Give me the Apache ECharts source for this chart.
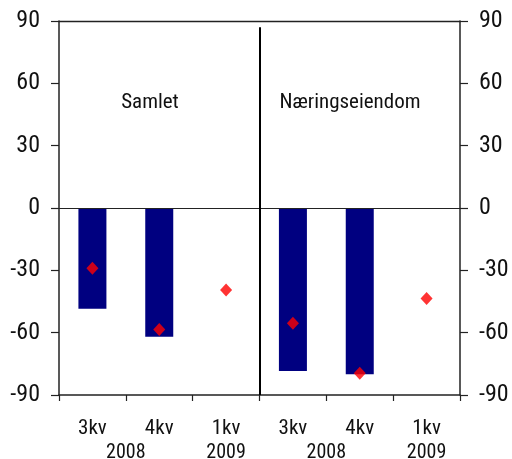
<!DOCTYPE html>
<html>
<head>
<meta charset="utf-8">
<script src="https://cdn.jsdelivr.net/npm/echarts@6/dist/echarts.min.js"></script>
<style>
html,body{margin:0;padding:0;background:#fff;}
#c{width:512px;height:459px;}
</style>
</head>
<body>
<div id="c"></div>
<script>
var categories = ['3kv', '4kv', '1kv', '3kv', '4kv', '1kv'];
var yearLabels = ['', '', '2008', '', '', '2009', '', '', '2008', '', '', '2009', ''];
var barValues = [-48.5, -62, null, -78.5, -80, null];
var diamondValues = [-29, -58.5, -39.5, -55.5, -79.5, -43.5];
var panelTitles = ['Samlet', 'Næringseiendom'];
var yTicks = [-90, -60, -30, 0, 30, 60, 90];
var dividerAt = 3;
var dividerTop = 87;

var FONT = "'Roboto Condensed', 'Liberation Sans', sans-serif";
var chart = echarts.init(document.getElementById('c'));

function yAxisDef(pos) {
  return {
    type: 'value', position: pos,
    min: yTicks[0], max: yTicks[yTicks.length - 1], interval: 30,
    axisLine: {show: true, lineStyle: {color: '#222', width: 1.5}},
    axisTick: {show: true, inside: false, length: 8, lineStyle: {color: '#222', width: 1.2}},
    axisLabel: {show: true, margin: 19, fontFamily: FONT, fontSize: 24, color: '#111'},
    splitLine: {show: false}
  };
}

chart.setOption({
  animation: false,
  backgroundColor: '#fff',
  grid: {left: 59, right: 52, top: 21, bottom: 64, containLabel: false, outerBoundsMode: 'none'},
  graphic: [
    {type: 'text', x: 150, y: 103, style: {text: panelTitles[0], fontFamily: FONT, fontSize: 21, fill: '#111', align: 'center', verticalAlign: 'middle'}},
    {type: 'text', x: 350, y: 103, style: {text: panelTitles[1], fontFamily: FONT, fontSize: 21, fill: '#111', align: 'center', verticalAlign: 'middle'}}
  ],
  xAxis: [
    {
      type: 'category', data: categories, position: 'bottom',
      axisLine: {show: true, onZero: false, lineStyle: {color: '#222', width: 1.5}},
      axisTick: {show: true, inside: false, length: 6, alignWithLabel: false, lineStyle: {color: '#222', width: 1.2}},
      axisLabel: {show: true, interval: 0, margin: 23, fontFamily: FONT, fontSize: 21, color: '#111'},
      splitLine: {show: false}
    },
    {
      type: 'category', data: yearLabels, position: 'bottom', boundaryGap: false,
      axisLine: {show: false, onZero: false}, axisTick: {show: false},
      axisLabel: {show: true, interval: 0, margin: 48, fontFamily: FONT, fontSize: 20, color: '#111'},
      splitLine: {show: false}
    },
    {
      type: 'value', min: 0, max: categories.length, position: 'top',
      axisLine: {show: true, onZero: false, lineStyle: {color: '#222', width: 1.3}},
      axisTick: {show: false}, axisLabel: {show: false}, splitLine: {show: false}
    }
  ],
  yAxis: [yAxisDef('left'), yAxisDef('right')],
  series: [
    {
      type: 'bar', xAxisIndex: 0, yAxisIndex: 0, data: barValues, barWidth: 28,
      itemStyle: {color: '#000080'},
      markLine: {silent: true, symbol: 'none', label: {show: false},
        lineStyle: {color: '#222', width: 1, type: 'solid'},
        data: [{yAxis: 0}]}
    },
    {
      type: 'scatter', xAxisIndex: 0, yAxisIndex: 0, data: diamondValues,
      symbol: 'diamond', symbolSize: [12, 13], z: 5,
      itemStyle: {color: '#ff0000'}
    },
    {
      type: 'line', xAxisIndex: 2, yAxisIndex: 0, data: [], showSymbol: false,
      markLine: {silent: true, symbol: 'none', label: {show: false},
        lineStyle: {color: '#000', width: 2, type: 'solid'},
        data: [[{coord: [dividerAt, dividerTop]}, {coord: [dividerAt, yTicks[0]]}]]}
    }
  ]
});
</script>
</body>
</html>
